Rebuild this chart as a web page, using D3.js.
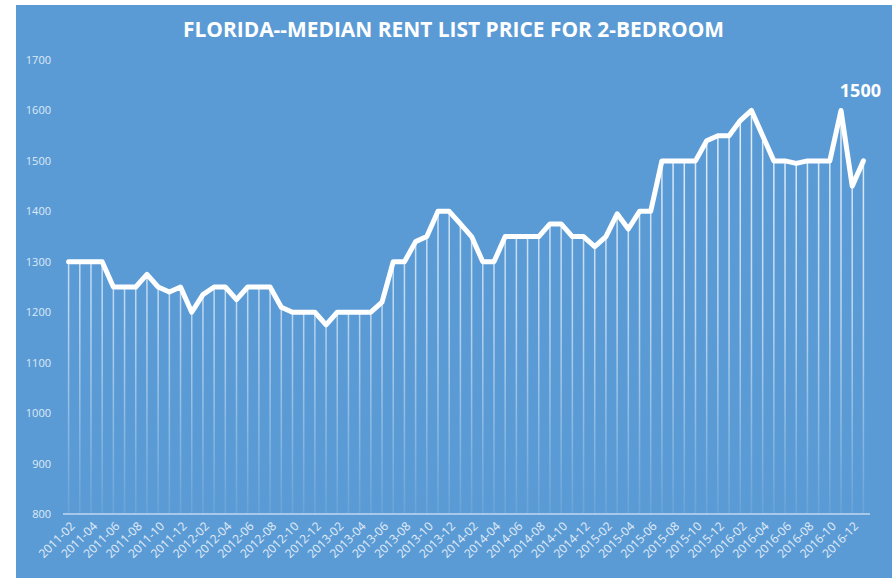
<!DOCTYPE html>
<html>
<head>
<meta charset="utf-8">
<script src="https://cdn.jsdelivr.net/npm/d3@7"></script>
<style>
  body { margin: 0; background: #ffffff; }
  svg { display: block; }
</style>
</head>
<body>
<div id="chart"></div>
<script>
// data, one value a month, 2011-02 .. 2017-01
var months = [];
var startYear = 2011, startMonth = 2;
var rents = [
  1300, 1300, 1300, 1300, 1250, 1250, 1250, 1275, 1250, 1240, 1250,   // 2011
  1200, 1235, 1250, 1250, 1225, 1250, 1250, 1250, 1210, 1200, 1200, 1200, // 2012
  1175, 1200, 1200, 1200, 1200, 1220, 1300, 1300, 1340, 1350, 1400, 1400, // 2013
  1375, 1350, 1300, 1300, 1350, 1350, 1350, 1350, 1375, 1375, 1350, 1350, // 2014
  1330, 1350, 1395, 1365, 1400, 1400, 1500, 1500, 1500, 1500, 1540, 1550, // 2015
  1550, 1580, 1600, 1550, 1500, 1500, 1495, 1500, 1500, 1500, 1600, 1450, // 2016
  1500                                                                    // 2017-01
];
for (var k = 0; k < rents.length; k++) {
  var m = startMonth - 1 + k;
  var yy = startYear + Math.floor(m / 12), mm = (m % 12) + 1;
  months.push(yy + "-" + (mm < 10 ? "0" + mm : mm));
}
var yTicks = [800, 900, 1000, 1100, 1200, 1300, 1400, 1500, 1600, 1700];
var titleText = "FLORIDA--MEDIAN RENT LIST PRICE FOR 2-BEDROOM";
var endLabel = "1500";

//----------------------------------------------------------------
// svg + background
var largeur = 895, hauteur = 578;
var svg = d3.select("#chart")
  .append("svg")
  .attr("width", largeur)
  .attr("height", hauteur);

svg.append("rect")
  .attr("x", 16).attr("y", 5)
  .attr("width", 876).attr("height", hauteur - 5)
  .attr("fill", "#5b9bd5");

var plot = { left: 63, right: 869, top: 60, bottom: 514 };

var x = d3.scaleBand()
  .domain(months)
  .range([plot.left, plot.right]);

var y = d3.scaleLinear()
  .domain([800, 1700])
  .range([plot.bottom, plot.top]);

function cx(d) { return x(d) + x.bandwidth() / 2; }

// gradient for the drop lines
var defs = svg.append("defs");
var grad = defs.append("linearGradient")
  .attr("id", "dropFade")
  .attr("gradientUnits", "userSpaceOnUse")
  .attr("x1", 0).attr("y1", plot.top)
  .attr("x2", 0).attr("y2", plot.bottom);
grad.append("stop").attr("offset", "0%").attr("stop-color", "#ffffff").attr("stop-opacity", 0.9);
grad.append("stop").attr("offset", "55%").attr("stop-color", "#ffffff").attr("stop-opacity", 0.6);
grad.append("stop").attr("offset", "100%").attr("stop-color", "#ffffff").attr("stop-opacity", 0.08);

//----------------------------------------------------------------
// title
svg.append("text")
  .attr("x", 453.5)
  .attr("y", 37)
  .attr("text-anchor", "middle")
  .attr("textLength", 541)
  .attr("lengthAdjust", "spacingAndGlyphs")
  .style("font-family", "'Open Sans', sans-serif")
  .style("font-weight", "bold")
  .style("font-size", "22px")
  .style("fill", "#ffffff")
  .text(titleText);

//----------------------------------------------------------------
// y axis labels (no gridlines)
var yAxis = d3.axisLeft(y)
  .tickValues(yTicks)
  .tickFormat(d3.format("d"))
  .tickSize(0)
  .tickPadding(0);
var gy = svg.append("g")
  .attr("transform", "translate(51,0)")
  .call(yAxis);
gy.select(".domain").remove();
gy.selectAll("text")
  .style("font-family", "'Open Sans', sans-serif")
  .style("font-size", "11px")
  .style("fill", "#deeaf6");

//----------------------------------------------------------------
// drop lines
svg.append("g")
  .selectAll("line")
  .data(rents)
  .enter()
  .append("line")
  .attr("x1", function(d, i) { return cx(months[i]); })
  .attr("x2", function(d, i) { return cx(months[i]); })
  .attr("y1", function(d) { return y(d); })
  .attr("y2", plot.bottom)
  .attr("stroke", "url(#dropFade)")
  .attr("stroke-width", 1.5);

//----------------------------------------------------------------
// x axis
var xAxis = d3.axisBottom(x)
  .tickValues(months.filter(function(d, i) { return i % 2 === 0 && i < 71; }))
  .tickSize(0)
  .tickPadding(0);
var gx = svg.append("g")
  .attr("transform", "translate(0," + plot.bottom + ")")
  .call(xAxis);
gx.select(".domain")
  .attr("d", "M" + plot.left + ",0H" + (plot.right + 1))
  .attr("stroke", "#bfd8ef")
  .attr("stroke-width", 1.5);
gx.selectAll("text")
  .attr("text-anchor", "end")
  .attr("dy", "0")
  .attr("transform", "translate(7,13) rotate(-45)")
  .style("font-family", "'Open Sans', sans-serif")
  .style("font-size", "12px")
  .style("fill", "#e2edf8");

//----------------------------------------------------------------
// the rent line
var line = d3.line()
  .x(function(d, i) { return cx(months[i]); })
  .y(function(d) { return y(d); });

svg.append("path")
  .datum(rents)
  .attr("d", line)
  .attr("fill", "none")
  .attr("stroke", "#ffffff")
  .attr("stroke-width", 5)
  .attr("stroke-linejoin", "round")
  .attr("stroke-linecap", "round");

// end label
svg.append("text")
  .attr("x", cx(months[months.length - 1]) - 3)
  .attr("y", y(1700) + 37)
  .attr("text-anchor", "middle")
  .style("font-family", "'Open Sans', sans-serif")
  .style("font-weight", "bold")
  .style("font-size", "18px")
  .style("fill", "#ffffff")
  .text(endLabel);
</script>
</body>
</html>
